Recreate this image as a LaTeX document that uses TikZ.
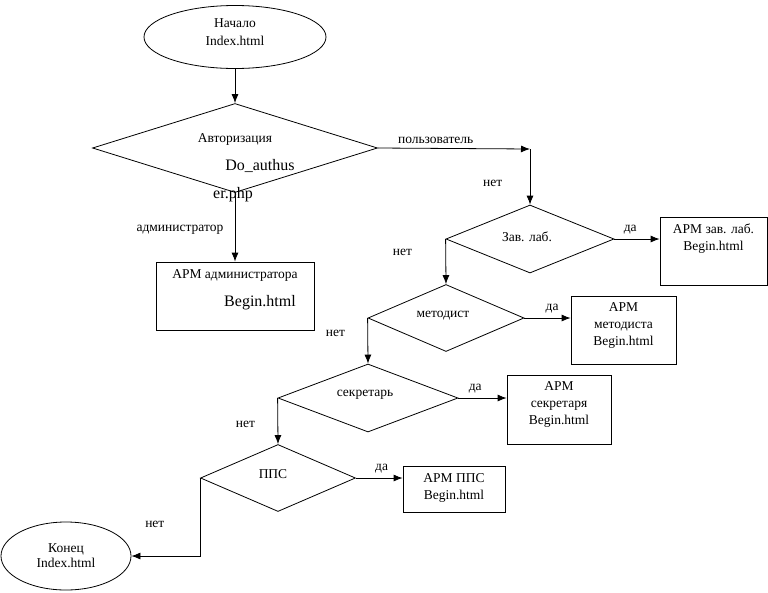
\documentclass[tikz,border=0pt]{standalone}
\usepackage{fontspec}
\setmainfont{Liberation Serif}
\usetikzlibrary{shapes.geometric, arrows.meta}
\tikzstyle{terminal} = [ellipse, draw, align=center, inner sep=0pt]
\tikzstyle{decision} = [diamond, draw, inner sep=0pt]
\tikzstyle{block} = [rectangle, draw, align=center, inner sep=0pt]
\tikzstyle{txt} = [align=center, inner sep=1pt]
\tikzstyle{big} = [inner sep=1pt, font=\fontsize{16}{18}\selectfont]
\tikzstyle{line} = [draw, -{Latex[length=9pt,width=7pt]}]

\begin{document}
\begin{tikzpicture}[x=1pt, y=-1pt, line width=0.8pt, font=\fontsize{13.5}{17}\selectfont]
    \useasboundingbox (0,0) rectangle (768,592);
    % Place nodes
    \node [terminal, minimum width=182pt, minimum height=63pt] (start) at (235,37) {};
    \node [txt, font=\fontsize{13.5}{18}\selectfont] (starttext) at (235,32) {Начало\\Index.html};
    \node [decision, minimum width=285pt, minimum height=89pt] (auth) at (235,148) {};
    \node [txt] (authtext) at (235,139) {Авторизация};
    \node [big] (authfile) at (260,166) {Do\_authus};
    \node [big] (authfile2) at (233,195) {er.php};
    \node [block, minimum width=158pt, minimum height=68pt] (admin) at (235,296) {};
    \node [txt] (admintext) at (235,275) {АРМ администратора};
    \node [big] (adminfile) at (260,303) {Begin.html};
    \coordinate (c1) at (530,149);
    \node [decision, minimum width=168pt, minimum height=68pt] (zav) at (530,239) {};
    \node [txt] (zavtext) at (527,237) {Зав. лаб.};
    \node [block, minimum width=107pt, minimum height=68pt] (zavbox) at (713.5,251) {};
    \node [txt, below=6pt] (zavboxtext) at (zavbox.north) {АРМ зав. лаб.\\Begin.html};
    \node [decision, minimum width=156pt, minimum height=67pt] (metod) at (446,318) {};
    \node [txt] (metodtext) at (443,316) {методист};
    \node [block, minimum width=105pt, minimum height=68pt] (metodbox) at (623.5,330) {};
    \node [txt] (metodboxtext) at (623.5,325) {АРМ\\методиста\\Begin.html};
    \node [decision, minimum width=180pt, minimum height=68pt] (secr) at (368,398) {};
    \node [txt] (secrtext) at (365,395) {секретарь};
    \node [block, minimum width=104pt, minimum height=69pt] (secrbox) at (559,409.5) {};
    \node [txt] (secrboxtext) at (559,404) {АРМ\\секретаря\\Begin.html};
    \node [decision, minimum width=155pt, minimum height=67pt] (pps) at (278,478) {};
    \node [txt] (ppstext) at (273,474) {ППС};
    \node [block, minimum width=102pt, minimum height=46pt] (ppsbox) at (454,489) {};
    \node [txt] (ppsboxtext) at (454,488) {АРМ ППС\\Begin.html};
    \node [terminal, minimum width=130pt, minimum height=68pt, font=\fontsize{13.5}{15}\selectfont] (end) at (66,556) {Конец\\Index.html};
    % Draw edges
    \path [line] (start) -- (auth);
    \path [line] (auth) -- node [left=8pt, pos=0.53] {администратор} (admin);
    \path [line] (auth.east) -- node [above=1pt, pos=0.38] {пользователь} (c1);
    \path [line] (c1) -- node [left=24pt, pos=0.62] {нет} (zav.north);
    \path [line] (zav.east) -- node [above=1pt, pos=0.35] {да} (zav.east -| zavbox.west);
    \path [line] (zav.west) -- node [left=30pt, pos=0.3] {нет} (metod.north);
    \path [line] (metod.east) -- node [above=1pt, pos=0.6] {да} (metod.east -| metodbox.west);
    \path [line] (metod.west) -- node [left=19pt, pos=0.33] {нет} (secr.north);
    \path [line] (secr.east) -- node [above=1pt, pos=0.35] {да} (secr.east -| secrbox.west);
    \path [line] (secr.west) -- node [left=19pt, pos=0.57] {нет} (pps.north);
    \path [line] (pps.east) -- node [above=1pt, pos=0.55] {да} (pps.east -| ppsbox.west);
    \path [line] (pps.west) |- node [left=32pt, pos=0.3] {нет} (end.east);
\end{tikzpicture}
\end{document}
